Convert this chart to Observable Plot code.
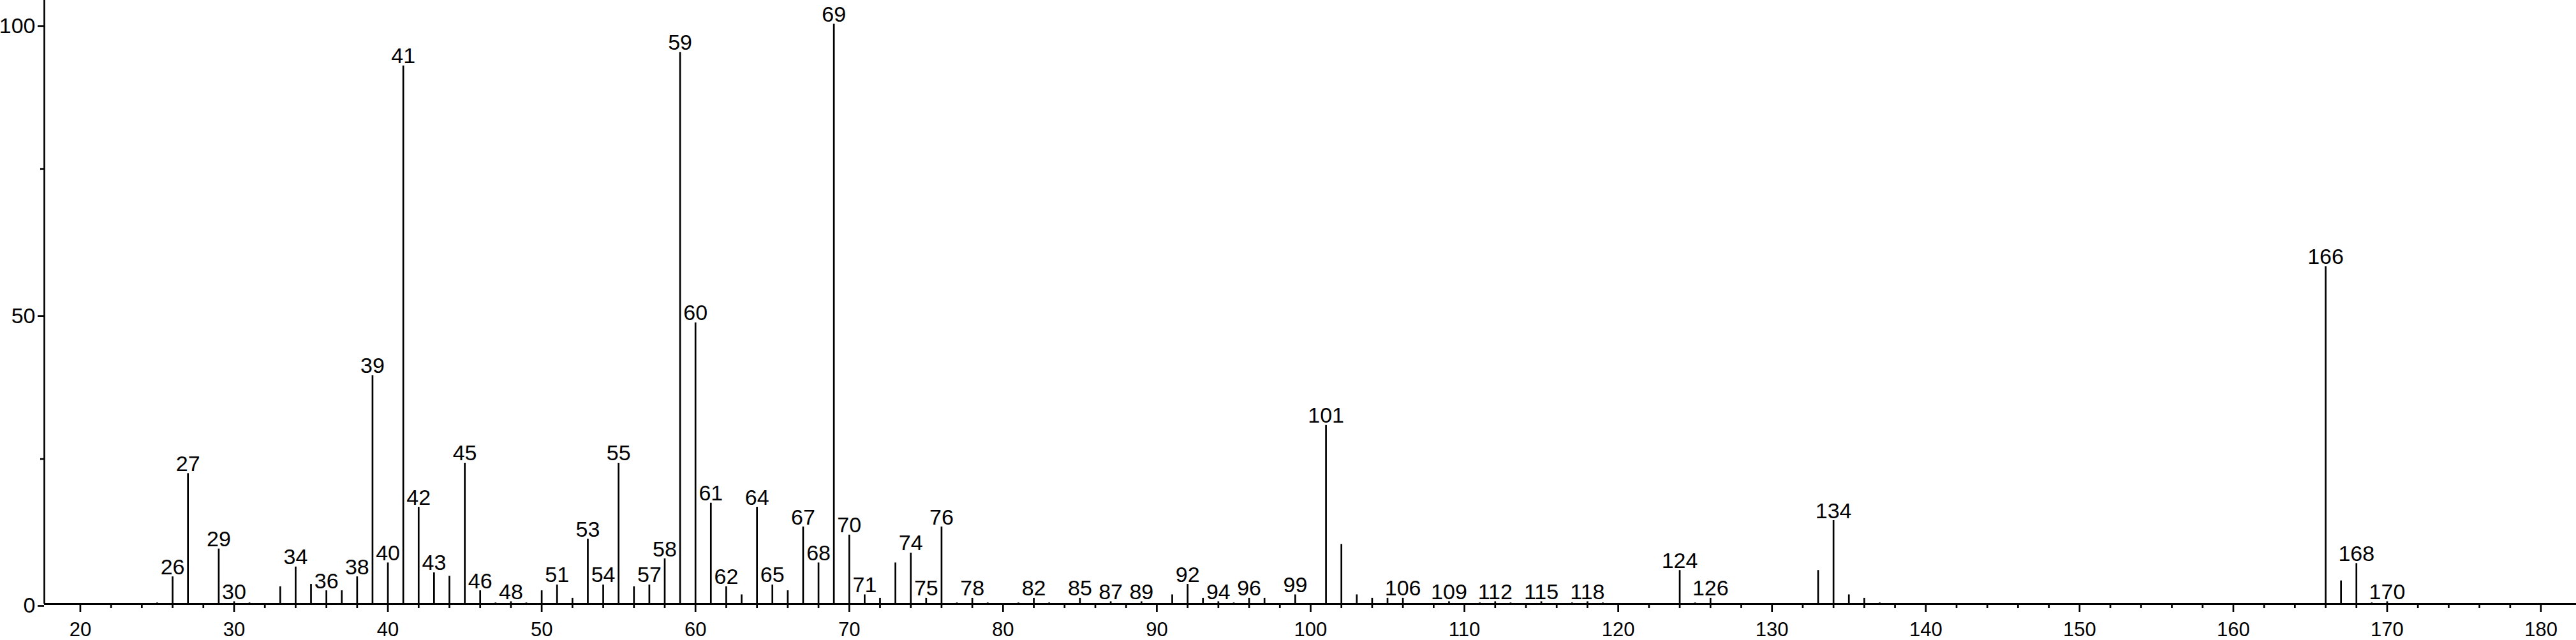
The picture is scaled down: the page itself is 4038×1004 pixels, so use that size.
<!DOCTYPE html>
<html><head><meta charset="utf-8">
<script src="https://cdn.jsdelivr.net/npm/d3@7"></script>
<script src="https://cdn.jsdelivr.net/npm/@observablehq/plot@0.6"></script>
<style>body{margin:0;background:#fff}</style>
</head><body><div id="chart"></div>
<script>
const mz = [25,26,27,29,30,31,33,34,35,36,37,38,39,40,41,42,43,44,45,46,47,48,49,50,51,52,53,54,55,56,57,58,59,60,61,62,63,64,65,66,67,68,69,70,71,72,73,74,75,76,77,78,79,81,82,83,85,87,89,91,92,93,94,95,96,97,99,101,102,103,104,105,106,109,111,112,113,115,117,118,119,124,125,126,133,134,135,136,137,166,167,168,169,170];
const intensity = [0.2,4.7,22.5,9.5,0.4,0.2,3.0,6.4,3.4,2.3,2.3,4.7,39.4,7.1,92.8,16.7,5.4,4.8,24.3,2.3,0.2,0.4,0.2,2.3,3.3,1.0,11.2,3.3,24.3,3.0,3.3,7.8,95.1,48.5,17.4,3.0,1.6,16.7,3.3,2.3,13.3,7.1,100,11.9,1.6,1.0,7.1,8.8,1.0,13.3,0.2,1.0,0.2,0.2,1.0,0.2,1.0,0.4,0.4,1.6,3.4,1.0,0.4,0.2,1.0,1.0,1.6,30.8,10.3,1.6,1.0,1.0,1.0,0.4,0.2,0.4,0.2,0.4,0.2,0.4,0.2,5.8,0.2,1.0,5.8,14.4,1.6,1.0,0.2,58.2,4.0,7.0,0.2,0.4];
const labeledMz = [26,27,29,30,34,36,38,39,40,41,42,43,45,46,48,51,53,54,55,57,58,59,60,61,62,64,65,67,68,69,70,71,74,75,76,78,82,85,87,89,92,94,96,99,101,106,109,112,115,118,124,126,134,166,168,170];
const xMajorTicks = [20,30,40,50,60,70,80,90,100,110,120,130,140,150,160,170,180];
const xMinorTicks = d3.range(22, 182, 2).filter(v => v % 10 !== 0);
const yMajorTicks = [0,50,100];
const yMinorTicks = [25,75];

const peaks = mz.map((m, i) => ({mz: m, intensity: intensity[i]}));
const labels = peaks.filter(d => labeledMz.includes(d.mz));

const xMin = 17.66, xMax = 182.3;
const font = "Liberation Sans, Arial, Helvetica, sans-serif";

const chart = Plot.plot({
  width: 4038,
  height: 1004,
  marginLeft: 69,
  marginRight: 0,
  marginTop: 0,
  marginBottom: 57,
  style: {fontFamily: font, fontSize: "32px", color: "black", background: "white"},
  x: {domain: [xMin, xMax]},
  y: {domain: [0, 104.1]},
  marks: [
    Plot.ruleX(peaks, {x: "mz", y1: 0, y2: "intensity", stroke: "black", strokeWidth: 2.7}),
    Plot.text(labels, {x: "mz", y: "intensity", text: d => String(d.mz), lineAnchor: "bottom", dy: -4, fontSize: 34, fill: "black"}),
    Plot.axisX({ticks: xMajorTicks, tickSize: 13, tickPadding: 15, strokeWidth: 2.7, tickFormat: d => String(d), label: null, fontSize: 31}),
    Plot.axisX({ticks: xMinorTicks, tickSize: 7, strokeWidth: 2.7, tickFormat: () => "", label: null}),
    Plot.axisY({ticks: yMajorTicks, tickSize: 10, tickPadding: 4, strokeWidth: 2.7, tickFormat: d => String(d), label: null, fontSize: 34, dy: 3}),
    Plot.axisY({ticks: yMinorTicks, tickSize: 6, strokeWidth: 2.7, tickFormat: () => "", label: null}),
    Plot.ruleY([0], {stroke: "black", strokeWidth: 3}),
    Plot.ruleX([xMin], {stroke: "black", strokeWidth: 2.7})
  ]
});
document.getElementById("chart").appendChild(chart);
</script>
</body></html>
